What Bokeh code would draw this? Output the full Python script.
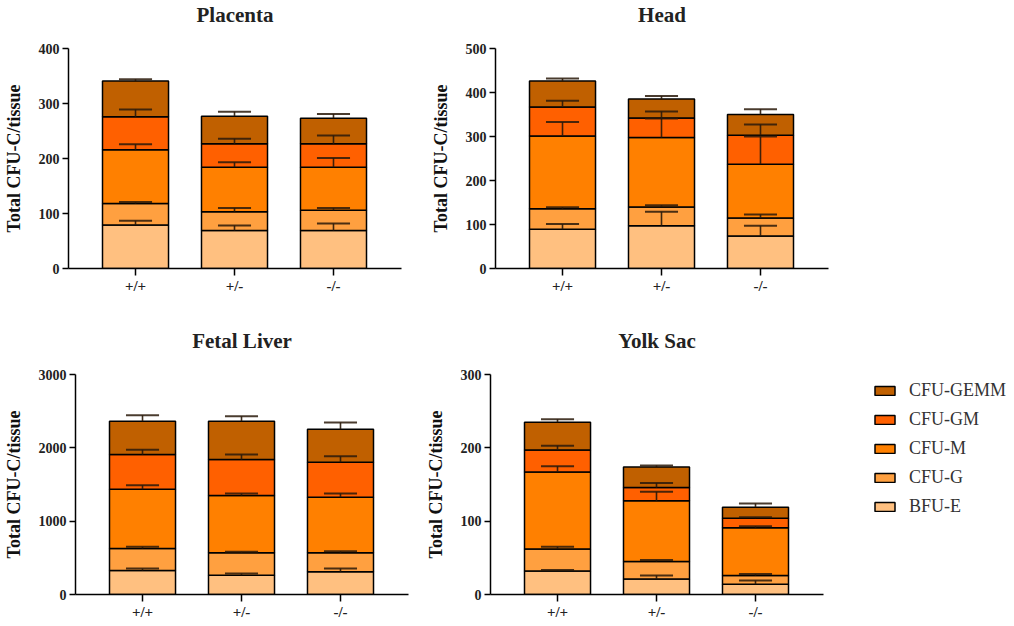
from bokeh.plotting import figure
from bokeh.models import Range1d, FixedTicker, Legend, LegendItem, ColumnDataSource, Title
from bokeh.layouts import column, row
from bokeh.embed import file_html
from bokeh.resources import INLINE

genotypes = ["+/+", "+/-", "-/-"]
series = ["BFU-E", "CFU-G", "CFU-M", "CFU-GM", "CFU-GEMM"]
colors = ["#FFC080", "#FFA040", "#FF8000", "#FF6000", "#C06000"]

# mean colony counts per genotype (+/+, +/-, -/-)
placenta_mean = {"BFU-E": [79, 69, 69], "CFU-G": [39, 34, 37], "CFU-M": [98, 81, 78],
                 "CFU-GM": [60, 43, 43], "CFU-GEMM": [65, 50, 46]}
placenta_sem = {"BFU-E": [8, 9, 13], "CFU-G": [3, 7, 4], "CFU-M": [10, 9, 17],
                "CFU-GM": [13, 9, 15], "CFU-GEMM": [3, 8, 8]}

head_mean = {"BFU-E": [89, 97, 74], "CFU-G": [47, 43, 41], "CFU-M": [165, 158, 122],
             "CFU-GM": [66, 44, 66], "CFU-GEMM": [59, 43, 47]}
head_sem = {"BFU-E": [12, 32, 23], "CFU-G": [3, 4, 8], "CFU-M": [32, 43, 63],
            "CFU-GM": [14, 15, 24], "CFU-GEMM": [6, 7, 12]}

liver_mean = {"BFU-E": [327, 264, 309], "CFU-G": [300, 304, 259], "CFU-M": [809, 782, 759],
              "CFU-GM": [473, 491, 478], "CFU-GEMM": [455, 523, 450]}
liver_sem = {"BFU-E": [28, 22, 46], "CFU-G": [23, 14, 23], "CFU-M": [55, 27, 50],
             "CFU-GM": [64, 68, 81], "CFU-GEMM": [81, 68, 90]}

yolk_mean = {"BFU-E": [32, 21, 14], "CFU-G": [30, 24, 12], "CFU-M": [105, 83, 65],
             "CFU-GM": [30, 18, 13], "CFU-GEMM": [38, 28, 15]}
yolk_sem = {"BFU-E": [1.5, 5, 5], "CFU-G": [3, 2, 2], "CFU-M": [8, 12, 2],
            "CFU-GM": [6, 6, 1.5], "CFU-GEMM": [4, 2, 5]}

SERIF = "Liberation Serif"
FW, FH = 333, 220


def make_panel(title, means, sems, ymax, step, left, right, top, bottom):
    p = figure(frame_width=FW, frame_height=FH, toolbar_location=None, output_backend="svg",
               x_range=Range1d(0.323, 3.687), y_range=Range1d(0, ymax),
               min_border_left=left, min_border_right=right,
               min_border_top=top, min_border_bottom=bottom)
    xs = [1, 2, 3]
    src = ColumnDataSource(dict(x=xs, **{s: means[s] for s in series}))
    bars = p.vbar_stack(series, x="x", width=0.667, fill_color=colors, line_color="black",
                        line_width=1.5, source=src)
    base = [0, 0, 0]
    for s in series:
        tops = [b + m for b, m in zip(base, means[s])]
        ups = [t + e for t, e in zip(tops, sems[s])]
        p.segment(x0=xs, y0=tops, x1=xs, y1=ups, line_color="#2a1a0a", line_width=1.6, line_alpha=0.9)
        p.segment(x0=[x - 0.167 for x in xs], y0=ups, x1=[x + 0.167 for x in xs], y1=ups,
                  line_color="#2a1a0a", line_width=2, line_alpha=0.85)
        base = tops

    p.title.visible = False
    sp = Title(text=" ", text_font_size="18px", standoff=0)
    tt = Title(text=title, align="center", text_font=SERIF, text_font_size="21px",
               text_font_style="bold", text_color="#222222", standoff=0)
    p.add_layout(sp, "above")
    p.add_layout(tt, "above")

    p.grid.visible = False
    p.outline_line_color = None
    p.background_fill_color = None
    p.border_fill_color = None

    p.xaxis.ticker = FixedTicker(ticks=xs)
    p.xaxis.major_label_overrides = {1: genotypes[0], 2: genotypes[1], 3: genotypes[2]}
    p.yaxis.ticker = FixedTicker(ticks=list(range(0, ymax + 1, step)))
    for ax in (p.xaxis[0], p.yaxis[0]):
        ax.axis_line_width = 1.5
        ax.axis_line_color = "black"
        ax.major_tick_line_width = 1.5
        ax.major_tick_line_color = "black"
        ax.major_tick_in = 0
        ax.minor_tick_line_color = None
        ax.major_label_text_font = SERIF
        ax.major_label_text_font_style = "bold"
        ax.major_label_text_color = "#222222"
    p.xaxis.major_tick_out = 7
    p.xaxis.major_label_text_font_size = "15px"
    p.xaxis.major_label_standoff = 2
    p.yaxis.major_tick_out = 6
    p.yaxis.major_label_text_font_size = "14px"
    p.yaxis.major_label_standoff = 3
    p.yaxis.axis_label = "Total CFU-C/tissue"
    p.yaxis.axis_label_text_font = SERIF
    p.yaxis.axis_label_text_font_style = "bold"
    p.yaxis.axis_label_text_font_size = "18px"
    p.yaxis.axis_label_text_color = "#111111"
    p.yaxis.axis_label_standoff = 12
    return p, bars


p1, _ = make_panel("Placenta", placenta_mean, placenta_sem, 400, 100, 64, 26, 45, 30)
p2, _ = make_panel("Head", head_mean, head_sem, 500, 100, 64, 10, 45, 30)
p3, _ = make_panel("Fetal Liver", liver_mean, liver_sem, 3000, 1000, 74, 14, 76, 22)
p4, bars4 = make_panel("Yolk Sac", yolk_mean, yolk_sem, 300, 100, 64, 184, 76, 22)

items = [LegendItem(label=s, renderers=[r]) for s, r in zip(series, bars4)]
legend = Legend(items=list(reversed(items)), location=(49, 77), orientation="vertical",
                glyph_width=25, glyph_height=11, label_height=21, spacing=8,
                label_standoff=12, padding=0, margin=0,
                border_line_color=None, background_fill_color=None, background_fill_alpha=0,
                label_text_font=SERIF, label_text_font_size="18px", label_text_color="#333333")
p4.add_layout(legend, "right")
p4.min_border_right = 184

layout = column(row(p1, p2), row(p3, p4))
open("out.html", "w").write(file_html(layout, INLINE))
